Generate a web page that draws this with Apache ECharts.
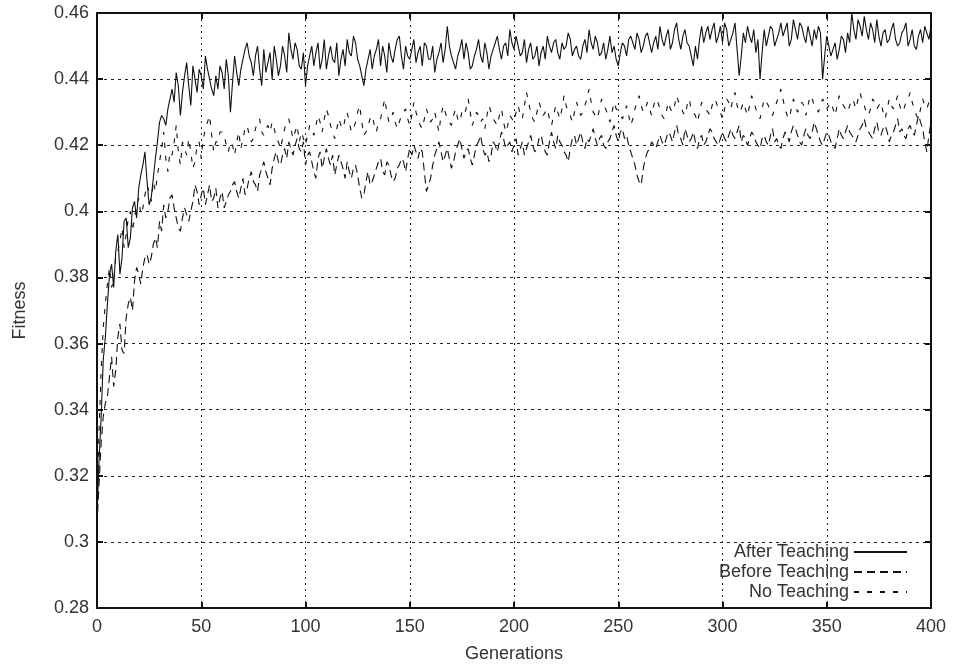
<!DOCTYPE html>
<html>
<head>
<meta charset="utf-8">
<script src="https://cdn.jsdelivr.net/npm/echarts@6/dist/echarts.min.js"></script>
<style>html,body{margin:0;padding:0;background:#fff}#c{width:953px;height:670px}</style>
</head>
<body>
<div id="c"></div>
<script>
// One value per generation, 0..400
const generations = [];
for (let g = 0; g <= 400; g++) generations.push(g);

const seriesNames = ['After Teaching', 'Before Teaching', 'No Teaching'];

const afterTeaching = [
0.307,0.325,0.338,0.355,0.362,0.372,0.381,0.384,0.377,0.388,0.393,0.381,0.386,0.397,0.398,0.389,0.392,0.401,0.403,0.398,
0.407,0.411,0.414,0.418,0.409,0.402,0.404,0.410,0.416,0.421,0.427,0.429,0.428,0.426,0.431,0.434,0.437,0.433,0.442,0.438,
0.429,0.436,0.441,0.445,0.438,0.432,0.444,0.440,0.436,0.443,0.441,0.437,0.447,0.443,0.440,0.437,0.435,0.441,0.437,0.444,
0.442,0.437,0.446,0.441,0.430,0.439,0.447,0.442,0.438,0.443,0.446,0.449,0.451,0.447,0.445,0.441,0.447,0.450,0.443,0.438,
0.449,0.442,0.445,0.448,0.440,0.450,0.446,0.441,0.444,0.450,0.447,0.442,0.454,0.449,0.446,0.451,0.449,0.444,0.443,0.448,
0.438,0.444,0.447,0.450,0.444,0.448,0.451,0.443,0.446,0.452,0.443,0.447,0.450,0.446,0.445,0.451,0.441,0.446,0.449,0.444,
0.452,0.448,0.447,0.453,0.451,0.446,0.444,0.441,0.438,0.443,0.446,0.449,0.443,0.447,0.449,0.452,0.444,0.450,0.447,0.442,
0.451,0.447,0.445,0.449,0.452,0.453,0.447,0.443,0.450,0.447,0.446,0.449,0.452,0.445,0.448,0.450,0.444,0.451,0.450,0.446,
0.446,0.450,0.442,0.446,0.448,0.451,0.445,0.449,0.456,0.450,0.447,0.445,0.443,0.447,0.449,0.452,0.446,0.451,0.448,0.443,
0.444,0.447,0.449,0.452,0.447,0.445,0.451,0.448,0.443,0.447,0.449,0.451,0.453,0.449,0.446,0.450,0.451,0.447,0.455,0.451,
0.449,0.453,0.450,0.447,0.448,0.452,0.445,0.449,0.451,0.446,0.447,0.450,0.444,0.448,0.450,0.446,0.453,0.450,0.448,0.451,
0.452,0.448,0.446,0.451,0.449,0.450,0.454,0.452,0.447,0.449,0.450,0.447,0.446,0.450,0.452,0.448,0.455,0.451,0.449,0.453,
0.451,0.447,0.448,0.451,0.446,0.449,0.453,0.448,0.450,0.446,0.444,0.448,0.451,0.450,0.447,0.452,0.453,0.451,0.449,0.454,
0.452,0.448,0.450,0.453,0.454,0.451,0.448,0.451,0.453,0.449,0.456,0.452,0.450,0.453,0.455,0.449,0.451,0.455,0.457,0.452,
0.449,0.453,0.455,0.451,0.450,0.447,0.444,0.450,0.446,0.452,0.456,0.451,0.454,0.456,0.452,0.455,0.457,0.451,0.453,0.456,
0.451,0.457,0.455,0.450,0.452,0.454,0.457,0.449,0.441,0.447,0.454,0.451,0.456,0.453,0.451,0.455,0.448,0.452,0.440,0.448,
0.455,0.450,0.453,0.456,0.455,0.450,0.452,0.454,0.457,0.453,0.455,0.457,0.450,0.452,0.458,0.455,0.452,0.457,0.456,0.453,
0.451,0.456,0.453,0.450,0.455,0.452,0.456,0.454,0.440,0.447,0.453,0.450,0.447,0.449,0.451,0.446,0.449,0.453,0.452,0.448,
0.454,0.451,0.460,0.455,0.452,0.458,0.456,0.453,0.459,0.455,0.452,0.457,0.455,0.451,0.458,0.453,0.450,0.454,0.455,0.451,
0.452,0.455,0.457,0.452,0.450,0.451,0.454,0.455,0.457,0.450,0.452,0.455,0.450,0.449,0.453,0.455,0.451,0.456,0.454,0.452,
0.456];

const beforeTeaching = [
0.305,0.318,0.330,0.338,0.342,0.344,0.350,0.356,0.347,0.352,0.362,0.366,0.358,0.357,0.368,0.372,0.374,0.370,0.379,0.383,
0.381,0.378,0.383,0.386,0.387,0.384,0.386,0.390,0.392,0.389,0.397,0.394,0.402,0.398,0.400,0.404,0.405,0.401,0.398,0.395,
0.394,0.398,0.401,0.399,0.397,0.400,0.403,0.408,0.406,0.402,0.405,0.407,0.402,0.405,0.408,0.403,0.404,0.407,0.401,0.404,
0.406,0.401,0.403,0.405,0.406,0.408,0.409,0.406,0.404,0.407,0.410,0.405,0.407,0.410,0.412,0.409,0.408,0.406,0.411,0.413,
0.415,0.412,0.410,0.408,0.413,0.416,0.418,0.415,0.414,0.417,0.419,0.416,0.421,0.419,0.417,0.420,0.422,0.419,0.418,0.421,
0.414,0.417,0.418,0.415,0.412,0.410,0.416,0.418,0.413,0.416,0.419,0.416,0.414,0.417,0.411,0.414,0.417,0.415,0.413,0.410,
0.415,0.412,0.410,0.413,0.414,0.411,0.407,0.404,0.405,0.409,0.412,0.408,0.409,0.411,0.413,0.415,0.416,0.412,0.411,0.415,
0.414,0.411,0.409,0.410,0.413,0.414,0.416,0.415,0.412,0.416,0.419,0.417,0.420,0.418,0.416,0.419,0.418,0.412,0.406,0.408,
0.410,0.414,0.417,0.419,0.421,0.418,0.415,0.417,0.419,0.416,0.413,0.415,0.418,0.420,0.422,0.419,0.416,0.418,0.419,0.416,
0.414,0.417,0.420,0.421,0.423,0.419,0.417,0.418,0.415,0.417,0.421,0.420,0.418,0.421,0.424,0.422,0.419,0.420,0.421,0.418,
0.420,0.422,0.417,0.419,0.421,0.417,0.419,0.421,0.423,0.420,0.418,0.419,0.422,0.423,0.420,0.418,0.417,0.421,0.424,0.421,
0.419,0.423,0.421,0.420,0.418,0.417,0.415,0.419,0.422,0.423,0.420,0.422,0.424,0.421,0.419,0.422,0.421,0.423,0.425,0.422,
0.420,0.422,0.423,0.420,0.419,0.421,0.422,0.424,0.426,0.423,0.421,0.424,0.425,0.422,0.423,0.420,0.418,0.416,0.414,0.411,
0.409,0.408,0.413,0.416,0.418,0.419,0.421,0.420,0.419,0.421,0.423,0.421,0.420,0.422,0.424,0.423,0.421,0.424,0.426,0.423,
0.422,0.420,0.425,0.423,0.421,0.422,0.424,0.421,0.419,0.422,0.423,0.420,0.421,0.423,0.425,0.424,0.422,0.421,0.420,0.422,
0.424,0.422,0.421,0.423,0.425,0.423,0.422,0.424,0.426,0.421,0.423,0.422,0.420,0.422,0.424,0.423,0.421,0.420,0.419,0.422,
0.423,0.421,0.420,0.423,0.425,0.421,0.422,0.420,0.419,0.422,0.424,0.423,0.421,0.424,0.426,0.425,0.423,0.421,0.420,0.423,
0.425,0.423,0.422,0.424,0.427,0.425,0.423,0.421,0.420,0.422,0.424,0.423,0.421,0.420,0.419,0.422,0.425,0.423,0.422,0.424,
0.426,0.424,0.423,0.422,0.421,0.423,0.425,0.426,0.428,0.425,0.424,0.423,0.422,0.425,0.427,0.424,0.423,0.425,0.426,0.424,
0.421,0.423,0.424,0.426,0.428,0.424,0.425,0.423,0.422,0.425,0.426,0.424,0.423,0.426,0.429,0.427,0.425,0.421,0.418,0.423,
0.427];

const noTeaching = [
0.310,0.334,0.352,0.365,0.372,0.378,0.383,0.377,0.379,0.386,0.388,0.391,0.395,0.389,0.393,0.398,0.400,0.394,0.398,0.402,
0.404,0.399,0.401,0.405,0.408,0.406,0.403,0.409,0.406,0.411,0.415,0.419,0.424,0.416,0.412,0.418,0.417,0.421,0.426,0.418,
0.414,0.421,0.419,0.417,0.422,0.418,0.413,0.415,0.420,0.421,0.416,0.422,0.425,0.427,0.429,0.423,0.418,0.421,0.421,0.424,
0.424,0.423,0.420,0.418,0.421,0.420,0.417,0.421,0.424,0.419,0.422,0.425,0.426,0.423,0.421,0.422,0.425,0.427,0.428,0.424,
0.423,0.425,0.426,0.424,0.427,0.425,0.422,0.421,0.419,0.422,0.425,0.427,0.428,0.425,0.422,0.424,0.426,0.421,0.424,0.422,
0.420,0.423,0.426,0.425,0.423,0.426,0.429,0.427,0.424,0.428,0.431,0.429,0.426,0.424,0.422,0.425,0.428,0.426,0.425,0.428,
0.430,0.427,0.424,0.425,0.427,0.430,0.432,0.427,0.423,0.424,0.426,0.428,0.429,0.426,0.424,0.427,0.428,0.431,0.434,0.430,
0.427,0.428,0.430,0.427,0.425,0.427,0.429,0.430,0.431,0.428,0.426,0.429,0.433,0.430,0.428,0.426,0.425,0.428,0.431,0.429,
0.427,0.428,0.430,0.427,0.424,0.429,0.432,0.430,0.428,0.427,0.426,0.429,0.431,0.428,0.427,0.430,0.429,0.431,0.434,0.430,
0.426,0.428,0.430,0.429,0.427,0.428,0.425,0.429,0.432,0.430,0.428,0.427,0.426,0.429,0.431,0.427,0.424,0.426,0.429,0.428,
0.427,0.430,0.432,0.429,0.428,0.432,0.436,0.433,0.430,0.428,0.427,0.430,0.433,0.431,0.429,0.430,0.431,0.428,0.426,0.429,
0.432,0.430,0.428,0.431,0.435,0.432,0.430,0.429,0.427,0.430,0.433,0.431,0.429,0.430,0.432,0.434,0.437,0.433,0.430,0.429,
0.428,0.431,0.434,0.432,0.431,0.429,0.427,0.430,0.433,0.431,0.430,0.429,0.428,0.430,0.432,0.429,0.426,0.428,0.431,0.433,
0.435,0.432,0.430,0.431,0.433,0.431,0.429,0.432,0.434,0.433,0.431,0.429,0.428,0.430,0.433,0.431,0.430,0.432,0.435,0.433,
0.432,0.430,0.429,0.432,0.434,0.431,0.430,0.429,0.427,0.430,0.433,0.432,0.431,0.430,0.429,0.432,0.434,0.433,0.431,0.430,
0.428,0.431,0.434,0.433,0.431,0.434,0.436,0.432,0.430,0.431,0.433,0.431,0.429,0.432,0.435,0.433,0.431,0.429,0.428,0.431,
0.434,0.433,0.432,0.430,0.429,0.431,0.433,0.435,0.437,0.434,0.431,0.429,0.428,0.431,0.434,0.432,0.430,0.431,0.433,0.432,
0.429,0.432,0.435,0.434,0.432,0.431,0.430,0.432,0.434,0.433,0.431,0.432,0.433,0.431,0.429,0.432,0.435,0.433,0.432,0.431,
0.430,0.432,0.434,0.433,0.431,0.434,0.436,0.433,0.432,0.430,0.429,0.431,0.434,0.433,0.431,0.432,0.433,0.430,0.428,0.431,
0.434,0.432,0.431,0.433,0.435,0.432,0.430,0.431,0.433,0.434,0.436,0.433,0.431,0.429,0.428,0.431,0.434,0.432,0.431,0.433,
0.435];

const xTicks = { min: 0, max: 400, interval: 50 };
const yTicks = { min: 0.28, max: 0.46, interval: 0.02 };

function pairs(vals) { return generations.map((g, i) => [g, vals[i]]); }

const FONT = "'Liberation Sans', Arial, Helvetica, sans-serif";
const TXT = '#333';
const chart = echarts.init(document.getElementById('c'), null, { renderer: 'canvas' });

const frameLine = { show: true, onZero: false, lineStyle: { color: '#111', width: 2 } };
const innerTick = { show: true, inside: true, length: 6, lineStyle: { color: '#111', width: 2 } };

chart.setOption({
  animation: false,
  backgroundColor: '#fff',
  textStyle: { fontFamily: FONT },
  grid: { left: 97, right: 22, top: 13, bottom: 62, containLabel: false },
  legend: {
    data: seriesNames,
    orient: 'vertical',
    align: 'right',
    right: 45,
    top: 542,
    padding: 0,
    itemGap: 0,
    itemWidth: 53,
    itemHeight: 14,
    itemStyle: { color: 'rgba(0,0,0,0)', borderWidth: 0, opacity: 0 },
    textStyle: { fontFamily: FONT, fontSize: 18, color: TXT, lineHeight: 20 },
    selectedMode: false
  },
  xAxis: [{
    type: 'value', position: 'bottom', min: xTicks.min, max: xTicks.max, interval: xTicks.interval,
    name: 'Generations', nameLocation: 'middle', nameGap: 37,
    nameTextStyle: { fontFamily: FONT, fontSize: 18, color: TXT },
    axisLine: frameLine, axisTick: innerTick,
    axisLabel: { fontFamily: FONT, fontSize: 18, color: TXT, margin: 10 },
    splitLine: { show: true, lineStyle: { color: '#222', width: 1, type: [2, 4] } }
  }, {
    type: 'value', position: 'top', min: xTicks.min, max: xTicks.max, interval: xTicks.interval,
    axisLine: frameLine, axisTick: innerTick, axisLabel: { show: false }, splitLine: { show: false }
  }],
  yAxis: [{
    type: 'value', position: 'left', min: yTicks.min, max: yTicks.max, interval: yTicks.interval,
    name: 'Fitness', nameLocation: 'middle', nameGap: 68,
    nameTextStyle: { fontFamily: FONT, fontSize: 18, color: TXT },
    axisLine: frameLine, axisTick: innerTick,
    axisLabel: { fontFamily: FONT, fontSize: 18, color: TXT, margin: 8 },
    splitLine: { show: true, lineStyle: { color: '#222', width: 1, type: [3, 4] } }
  }, {
    type: 'value', position: 'right', min: yTicks.min, max: yTicks.max, interval: yTicks.interval,
    axisLine: frameLine, axisTick: innerTick, axisLabel: { show: false }, splitLine: { show: false }
  }],
  series: [{
    name: seriesNames[0], type: 'line', xAxisIndex: 0, yAxisIndex: 0,
    data: pairs(afterTeaching), symbol: 'none', showSymbol: false,
    lineStyle: { color: '#111', width: 1.1, type: 'solid' }, itemStyle: { color: '#111' }, z: 3
  }, {
    name: seriesNames[1], type: 'line', xAxisIndex: 0, yAxisIndex: 0,
    data: pairs(beforeTeaching), symbol: 'none', showSymbol: false,
    lineStyle: { color: '#111', width: 1.1, type: [8, 5] }, itemStyle: { color: '#111' }, z: 3
  }, {
    name: seriesNames[2], type: 'line', xAxisIndex: 0, yAxisIndex: 0,
    data: pairs(noTeaching), symbol: 'none', showSymbol: false,
    lineStyle: { color: '#111', width: 1.1, type: [5, 8] }, itemStyle: { color: '#111' }, z: 3
  }]
});
</script>
</body>
</html>
